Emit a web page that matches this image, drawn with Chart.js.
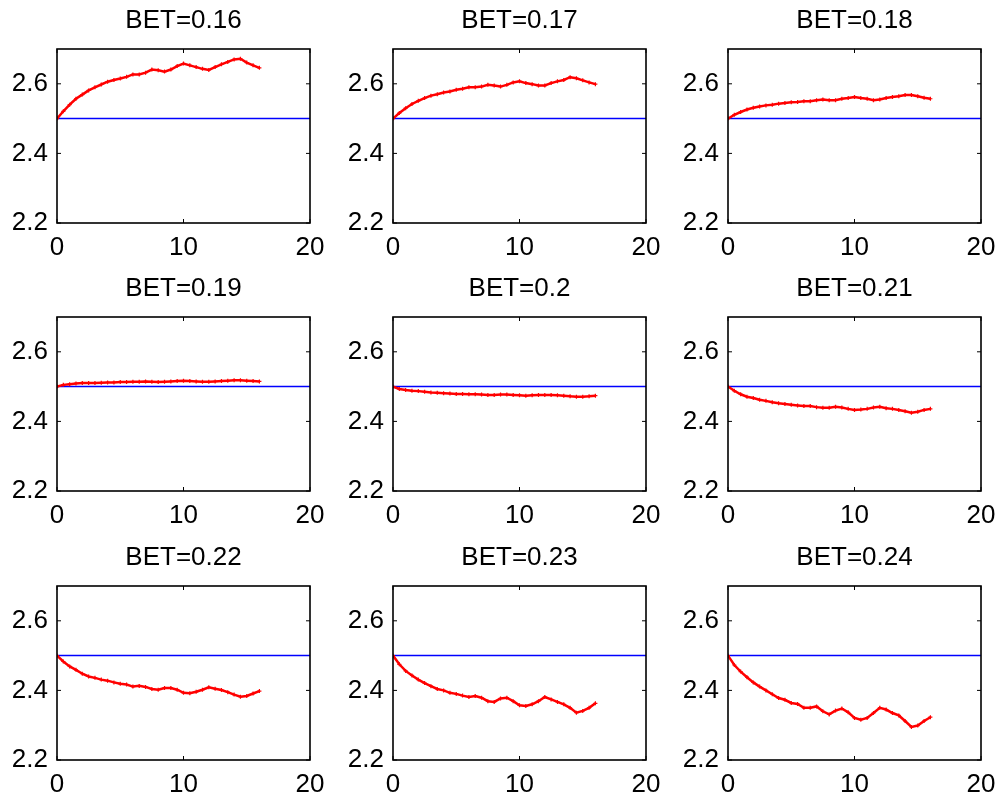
<!DOCTYPE html>
<html>
<head>
<meta charset="utf-8">
<script src="https://cdn.jsdelivr.net/npm/chart.js@4/dist/chart.umd.min.js"></script>
<style>
  html, body { margin: 0; padding: 0; background: #ffffff; }
  #wrap { position: relative; width: 1008px; height: 800px; overflow: hidden; background: #ffffff; }
  #wrap canvas { position: absolute; }
</style>
</head>
<body>
<div id="wrap"></div>
<script>
// ---------- data ----------
const panelTitles = ['BET=0.16', 'BET=0.17', 'BET=0.18', 'BET=0.19', 'BET=0.2', 'BET=0.21', 'BET=0.22', 'BET=0.23', 'BET=0.24'];
const xValues = [0, 0.5, 1, 1.5, 2, 2.5, 3, 3.5, 4, 4.5, 5, 5.5, 6, 6.5, 7, 7.5, 8, 8.5, 9, 9.5, 10, 10.5, 11, 11.5, 12, 12.5, 13, 13.5, 14, 14.5, 15, 15.5, 16];
const refLevel = 2.5;
const refX = [0, 20];
const xTicks = [0, 10, 20];
const yTicks = [2.2, 2.4, 2.6];

const bet016 = [2.500, 2.521, 2.540, 2.557, 2.569, 2.581, 2.590, 2.598, 2.606, 2.611, 2.615, 2.620, 2.627, 2.627, 2.632, 2.641, 2.639, 2.635, 2.641, 2.651, 2.658, 2.653, 2.648, 2.643, 2.640, 2.648, 2.656, 2.663, 2.670, 2.672, 2.661, 2.653, 2.646];
const bet017 = [2.500, 2.516, 2.530, 2.542, 2.551, 2.559, 2.566, 2.570, 2.575, 2.578, 2.583, 2.586, 2.590, 2.590, 2.592, 2.597, 2.595, 2.592, 2.597, 2.604, 2.607, 2.602, 2.599, 2.595, 2.595, 2.602, 2.607, 2.611, 2.619, 2.616, 2.610, 2.604, 2.599];
const bet018 = [2.500, 2.511, 2.519, 2.526, 2.531, 2.535, 2.538, 2.540, 2.543, 2.545, 2.547, 2.548, 2.550, 2.550, 2.553, 2.555, 2.553, 2.553, 2.557, 2.559, 2.562, 2.559, 2.557, 2.553, 2.555, 2.559, 2.562, 2.564, 2.568, 2.568, 2.564, 2.560, 2.557];
const bet019 = [2.500, 2.505, 2.507, 2.509, 2.510, 2.510, 2.510, 2.511, 2.512, 2.512, 2.513, 2.513, 2.514, 2.514, 2.515, 2.514, 2.513, 2.514, 2.515, 2.516, 2.517, 2.516, 2.515, 2.514, 2.514, 2.515, 2.516, 2.517, 2.518, 2.518, 2.517, 2.516, 2.515];
const bet020 = [2.500, 2.493, 2.490, 2.488, 2.487, 2.485, 2.483, 2.482, 2.481, 2.480, 2.479, 2.479, 2.478, 2.478, 2.477, 2.476, 2.476, 2.477, 2.477, 2.476, 2.475, 2.474, 2.475, 2.476, 2.476, 2.476, 2.475, 2.474, 2.472, 2.471, 2.471, 2.472, 2.474];
const bet021 = [2.500, 2.488, 2.478, 2.471, 2.467, 2.462, 2.459, 2.455, 2.452, 2.450, 2.448, 2.446, 2.444, 2.444, 2.441, 2.439, 2.439, 2.442, 2.440, 2.436, 2.433, 2.434, 2.436, 2.440, 2.442, 2.438, 2.436, 2.433, 2.429, 2.425, 2.428, 2.433, 2.436];
const bet022 = [2.500, 2.483, 2.469, 2.459, 2.448, 2.440, 2.436, 2.431, 2.428, 2.423, 2.419, 2.417, 2.411, 2.413, 2.410, 2.404, 2.402, 2.407, 2.407, 2.402, 2.393, 2.392, 2.396, 2.402, 2.409, 2.405, 2.401, 2.395, 2.388, 2.382, 2.384, 2.391, 2.398];
const bet023 = [2.500, 2.475, 2.456, 2.443, 2.431, 2.421, 2.412, 2.404, 2.400, 2.393, 2.390, 2.385, 2.381, 2.384, 2.379, 2.369, 2.367, 2.377, 2.379, 2.369, 2.357, 2.355, 2.360, 2.369, 2.381, 2.374, 2.367, 2.360, 2.350, 2.336, 2.341, 2.350, 2.363];
const bet024 = [2.500, 2.473, 2.454, 2.438, 2.423, 2.411, 2.400, 2.389, 2.378, 2.373, 2.364, 2.361, 2.350, 2.350, 2.354, 2.340, 2.331, 2.342, 2.348, 2.337, 2.321, 2.316, 2.321, 2.335, 2.350, 2.345, 2.335, 2.328, 2.312, 2.295, 2.299, 2.312, 2.323];

const panelSeries = [bet016, bet017, bet018, bet019, bet020, bet021, bet022, bet023, bet024];

// ---------- layout ----------
const colLefts = [0, 336, 671];
const rowTops = [0, 268, 537];
const CANVAS_W = 335, CANVAS_H = 262;
const FONT = '"Liberation Sans", Arial, Helvetica, sans-serif';

const framePlugin = {
  id: 'matlabFrame',
  afterDatasetsDraw(chart) {
    const { ctx, chartArea: a, scales } = chart;
    ctx.save();
    ctx.strokeStyle = '#000000';
    ctx.lineWidth = 1.6;
    ctx.strokeRect(a.left, a.top, a.right - a.left, a.bottom - a.top);
    ctx.lineWidth = 1;
    const tl = 4;
    ctx.beginPath();
    xTicks.forEach(v => {
      const px = scales.x.getPixelForValue(v);
      ctx.moveTo(px, a.bottom); ctx.lineTo(px, a.bottom - tl);
      ctx.moveTo(px, a.top); ctx.lineTo(px, a.top + tl);
    });
    yTicks.forEach(v => {
      const py = scales.y.getPixelForValue(v);
      ctx.moveTo(a.left, py); ctx.lineTo(a.left + tl, py);
      ctx.moveTo(a.right, py); ctx.lineTo(a.right - tl, py);
    });
    ctx.stroke();
    // panel title, centred over the plot box
    const t = chart.options.plugins.panelTitle;
    ctx.fillStyle = '#000000';
    ctx.font = '26px ' + FONT;
    ctx.textAlign = 'center';
    ctx.textBaseline = 'alphabetic';
    ctx.fillText(t.text, (a.left + a.right) / 2, 28);
    ctx.restore();
  }
};

const wrap = document.getElementById('wrap');
panelSeries.forEach((series, i) => {
  const cv = document.createElement('canvas');
  cv.width = CANVAS_W; cv.height = CANVAS_H;
  cv.style.left = colLefts[i % 3] + 'px';
  cv.style.top = rowTops[Math.floor(i / 3)] + 'px';
  cv.style.width = CANVAS_W + 'px'; cv.style.height = CANVAS_H + 'px';
  wrap.appendChild(cv);

  const pts = series.map((y, k) => ({ x: xValues[k], y: y }));
  const refPts = refX.map(x => ({ x: x, y: refLevel }));

  new Chart(cv, {
    type: 'scatter',
    data: {
      datasets: [
        { data: pts, showLine: true, borderColor: '#ff0000', backgroundColor: '#ff0000', borderWidth: 2.5,
          pointStyle: 'cross', pointRadius: 2, pointBorderWidth: 1.2, pointBorderColor: '#ff0000', tension: 0, order: 0 },
        { data: refPts, showLine: true, borderColor: '#0000ff', borderWidth: 1.5, pointRadius: 0, order: 1 }
      ]
    },
    options: {
      responsive: false, animation: false, devicePixelRatio: 1,
      layout: { padding: { top: 49, left: 0, right: 25, bottom: 0 } },
      plugins: {
        legend: { display: false }, tooltip: { enabled: false }, title: { display: false },
        panelTitle: { text: panelTitles[i] }
      },
      scales: {
        x: { type: 'linear', min: 0, max: 20,
          afterBuildTicks: s => { s.ticks = xTicks.map(v => ({ value: v })); },
          afterFit: s => { s.height = 39; },
          ticks: { color: '#000000', font: { family: FONT, size: 26 }, padding: 9, maxRotation: 0, autoSkip: false,
            callback: v => String(v) },
          grid: { display: false, drawTicks: false }, border: { display: false } },
        y: { type: 'linear', min: 2.2, max: 2.7,
          afterBuildTicks: s => { s.ticks = yTicks.map(v => ({ value: v })); },
          afterFit: s => { s.width = 57; },
          ticks: { color: '#000000', font: { family: FONT, size: 26 }, padding: 9, autoSkip: false,
            callback: v => Number(v).toFixed(1) },
          grid: { display: false, drawTicks: false }, border: { display: false } }
      }
    },
    plugins: [framePlugin]
  });
});
</script>
</body>
</html>
